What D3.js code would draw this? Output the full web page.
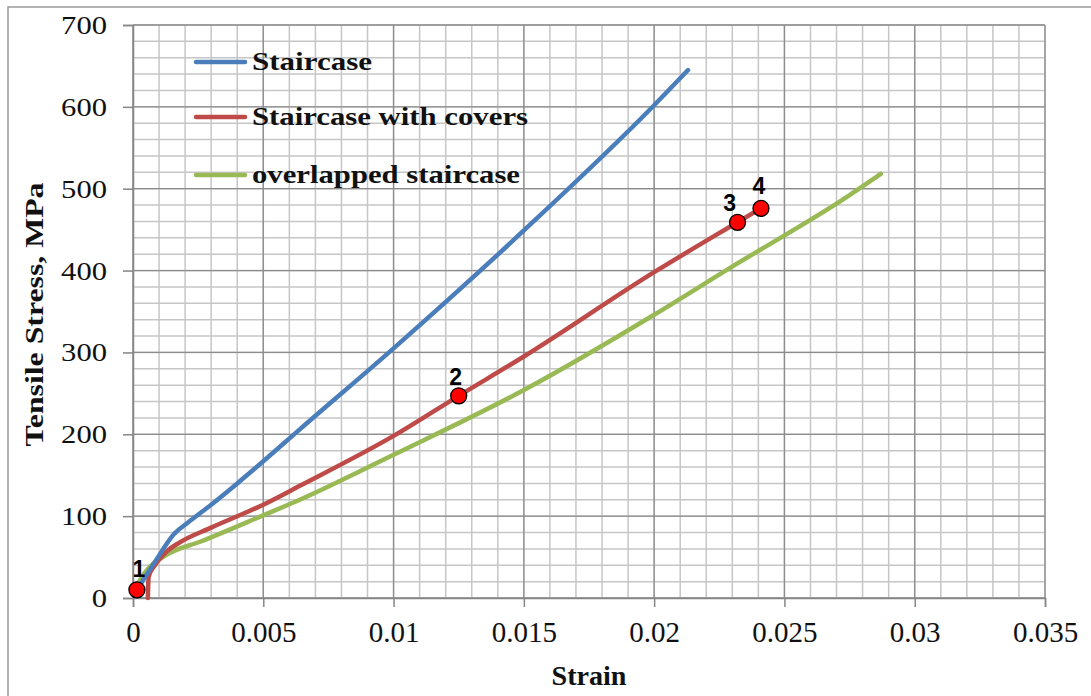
<!DOCTYPE html>
<html>
<head>
<meta charset="utf-8">
<script src="https://cdn.jsdelivr.net/npm/d3@7"></script>
<style>
  html, body { margin: 0; padding: 0; background: #fff; }
  svg { display: block; }
</style>
</head>
<body>
<svg id="chart" width="1091" height="696"></svg>
<script>
// Tensile stress–strain curves for three staircase joint configurations
const seriesNames = ["Staircase", "Staircase with covers", "overlapped staircase"];
const seriesColors = ["#4a7ebb", "#be4b48", "#98b954"];

const staircaseStrain = [0.00015, 0.00084, 0.0016, 0.0021, 0.003, 0.004, 0.005, 0.0064, 0.010, 0.015, 0.020, 0.0213];
const staircaseStress = [10, 44, 79, 92, 114, 140, 167, 206, 305, 449, 602, 645];

const coversStrain = [0.00057, 0.00058, 0.0006, 0.00084, 0.0013, 0.0018, 0.003, 0.005, 0.0064, 0.010, 0.0125, 0.015, 0.020, 0.0232, 0.0241];
const coversStress = [0, 12, 26, 40, 57, 68, 86, 114, 137, 198, 247, 295, 398, 459, 476];

const overlapStrain = [0.0001, 0.00053, 0.0013, 0.0026, 0.005, 0.0064, 0.010, 0.015, 0.020, 0.0229, 0.0274, 0.0287];
const overlapStress = [13, 34, 53, 69, 101, 120, 175, 254, 346, 403, 490, 518];

// Numbered points marked on the "with covers" curve
const markerLabels = ["1", "2", "3", "4"];
const markerStrain = [0.00015, 0.0125, 0.0232, 0.0241];
const markerStress = [10, 247, 459, 476];

const xTicks = [0, 0.005, 0.01, 0.015, 0.02, 0.025, 0.03, 0.035];
const xTickLabels = ["0", "0.005", "0.01", "0.015", "0.02", "0.025", "0.03", "0.035"];
const yTicks = [0, 100, 200, 300, 400, 500, 600, 700];

const svg = d3.select("#chart");
const W = 1091, H = 696;
const plot = { left: 133, right: 1045, top: 25, bottom: 598 };

const x = d3.scaleLinear().domain([0, 0.035]).range([plot.left, plot.right]);
const y = d3.scaleLinear().domain([0, 700]).range([plot.bottom, plot.top]);

// outer frame
svg.append("rect").attr("x", 8).attr("y", 7).attr("width", W + 20).attr("height", H + 20)
  .attr("fill", "#fff").attr("stroke", "#9a9a9a").attr("stroke-width", 1.5);

// minor grid
const g = svg.append("g");
g.selectAll("line.vminor").data(d3.range(0, 36).map(i => i * 0.001))
  .join("line").attr("class", "vminor")
  .attr("x1", d => x(d)).attr("x2", d => x(d))
  .attr("y1", plot.top).attr("y2", plot.bottom)
  .attr("stroke", "#c6c6c6").attr("stroke-width", 1.5);
g.selectAll("line.hminor").data(d3.range(0, 36).map(i => i * 20))
  .join("line").attr("class", "hminor")
  .attr("x1", plot.left).attr("x2", plot.right)
  .attr("y1", d => y(d)).attr("y2", d => y(d))
  .attr("stroke", "#c6c6c6").attr("stroke-width", 1.5);

// major grid
g.selectAll("line.vmajor").data(xTicks)
  .join("line").attr("class", "vmajor")
  .attr("x1", d => x(d)).attr("x2", d => x(d))
  .attr("y1", plot.top).attr("y2", plot.bottom)
  .attr("stroke", "#8c8c8c").attr("stroke-width", 1.3);
g.selectAll("line.hmajor").data(yTicks)
  .join("line").attr("class", "hmajor")
  .attr("x1", plot.left).attr("x2", plot.right)
  .attr("y1", d => y(d)).attr("y2", d => y(d))
  .attr("stroke", "#8c8c8c").attr("stroke-width", 1.3);

// axes
const xAxis = d3.axisBottom(x).tickValues(xTicks).tickFormat((d, i) => xTickLabels[i])
  .tickSize(9).tickPadding(14);
const yAxis = d3.axisLeft(y).tickValues(yTicks).tickFormat(d3.format("d"))
  .tickSize(10).tickPadding(16);

const gx = svg.append("g").attr("transform", `translate(0,${plot.bottom})`).call(xAxis);
const gy = svg.append("g").attr("transform", `translate(${plot.left},0)`).call(yAxis);
[gx, gy].forEach(a => {
  a.select(".domain").attr("stroke", "#868686").attr("stroke-width", 1.5);
  a.selectAll(".tick line").attr("stroke", "#868686").attr("stroke-width", 1.5);
  a.selectAll("text").attr("fill", "#111")
    .attr("font-family", "'Liberation Serif', 'Times New Roman', serif");
});
gx.selectAll("text").attr("font-size", 29);
gy.selectAll("text").attr("font-size", 25).attr("dy", "0.34em")
  .each(function () {
    const t = d3.select(this);
    const n = t.text().length;
    t.attr("textLength", n * 15.3).attr("lengthAdjust", "spacingAndGlyphs");
  });

// axis titles
svg.append("text")
  .attr("x", (plot.left + plot.right) / 2).attr("y", 685)
  .attr("text-anchor", "middle")
  .attr("font-family", "'Liberation Serif', 'Times New Roman', serif")
  .attr("font-weight", "bold").attr("font-size", 28).attr("fill", "#111")
  .attr("textLength", 75).attr("lengthAdjust", "spacingAndGlyphs")
  .text("Strain");

svg.append("text")
  .attr("transform", `translate(43,${(182 + 447) / 2}) rotate(-90)`)
  .attr("text-anchor", "middle")
  .attr("font-family", "'Liberation Serif', 'Times New Roman', serif")
  .attr("font-weight", "bold").attr("font-size", 26).attr("fill", "#111")
  .attr("textLength", 264).attr("lengthAdjust", "spacingAndGlyphs")
  .text("Tensile Stress, MPa");

// curves
const series = [
  { strain: staircaseStrain, stress: staircaseStress },
  { strain: coversStrain, stress: coversStress },
  { strain: overlapStrain, stress: overlapStress }
];
const line = d3.line()
  .x(d => x(d[0])).y(d => y(d[1]))
  .curve(d3.curveMonotoneX);

// draw green first, then red, then blue on top
[2, 1, 0].forEach(i => {
  const pts = series[i].strain.map((s, j) => [s, series[i].stress[j]]);
  svg.append("path").datum(pts)
    .attr("d", line)
    .attr("fill", "none")
    .attr("stroke", seriesColors[i])
    .attr("stroke-width", 4.5)
    .attr("stroke-linecap", "round")
    .attr("stroke-linejoin", "round");
});

// legend
const legendY = [62, 117, 175];
const legendWidths = [120, 276, 268];
const lg = svg.append("g");
seriesNames.forEach((name, i) => {
  lg.append("line")
    .attr("x1", 196).attr("x2", 245)
    .attr("y1", legendY[i]).attr("y2", legendY[i])
    .attr("stroke", seriesColors[i]).attr("stroke-width", 4.5)
    .attr("stroke-linecap", "round");
  lg.append("text")
    .attr("x", 252).attr("y", legendY[i]).attr("dy", "0.33em")
    .attr("font-family", "'Liberation Serif', 'Times New Roman', serif")
    .attr("font-weight", "bold").attr("font-size", 25).attr("fill", "#111")
    .attr("textLength", legendWidths[i]).attr("lengthAdjust", "spacingAndGlyphs")
    .text(name);
});

// numbered markers
const labelDx = [2, -3, -8, -2];
const labelDy = [-13, -11, -11, -14];
const mg = svg.append("g");
markerLabels.forEach((lab, i) => {
  const cx = x(markerStrain[i]), cy = y(markerStress[i]);
  mg.append("circle").attr("cx", cx).attr("cy", cy).attr("r", 8)
    .attr("fill", "#ff0000").attr("stroke", "#000").attr("stroke-width", 1.3);
  mg.append("text")
    .attr("x", cx + labelDx[i]).attr("y", cy + labelDy[i])
    .attr("text-anchor", "middle")
    .attr("font-family", "'Liberation Sans', Arial, sans-serif")
    .attr("font-weight", "bold").attr("font-size", 23).attr("fill", "#000")
    .text(lab);
});
</script>
</body>
</html>
